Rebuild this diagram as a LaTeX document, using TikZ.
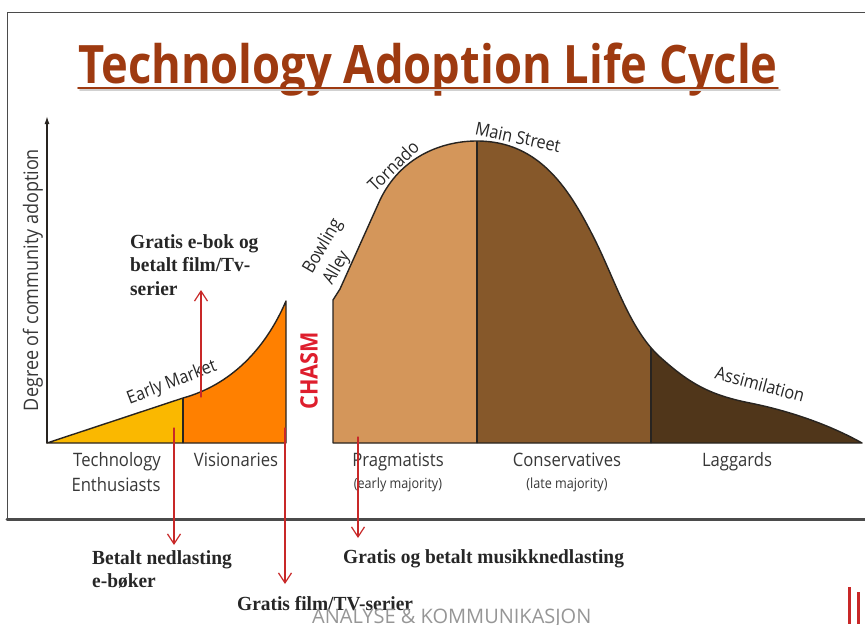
\documentclass[tikz,border=0pt]{standalone}
\usepackage{fontspec}
\newfontfamily\titlefont[FakeStretch=0.855]{Open Sans}
\newfontfamily\lblfont[FakeStretch=0.9]{Open Sans}
\newfontfamily\notefont[FakeStretch=0.97]{Liberation Serif}
\newfontfamily\footfont{Open Sans}
\usetikzlibrary{calc,arrows.meta}

\begin{document}
\begin{tikzpicture}[x=1pt,y=-1pt,line cap=round,line join=round]
  % Local definitions
  \def\leftcurve{(47,443) -- (183,398) .. controls (230,385) and (265,350) .. (286,301) -- (286,443) -- cycle}
  \def\rightcurve{(333,443) -- (333,300) -- (340,289) -- (380,200)
    .. controls (400,158) and (440,141) .. (477,141)
    .. controls (540,141) and (570,190) .. (595,240)
    .. controls (615,280) and (630,330) .. (660,357)
    .. controls (690,384) and (710,395) .. (750,403)
    .. controls (790,411) and (830,425) .. (862,443) -- cycle}

  % Colors
    \definecolor{titlecolor}{RGB}{158,58,16}
    \definecolor{yellowfill}{RGB}{250,184,0}
    \definecolor{orangefill}{RGB}{255,128,0}
    \definecolor{pragfill}{RGB}{212,150,90}
    \definecolor{consfill}{RGB}{134,88,42}
    \definecolor{lagfill}{RGB}{80,54,26}
    \definecolor{outlinecolor}{RGB}{40,36,32}
    \definecolor{lblcolor}{RGB}{55,55,55}
    \definecolor{chasmred}{RGB}{222,30,45}
    \definecolor{hintred}{RGB}{200,40,40}
    \definecolor{framegray}{RGB}{75,75,75}
    \definecolor{footgray}{RGB}{150,150,150}
    \colorlet{logored}{hintred}

  % Styles
    \tikzstyle{outline}=[draw=outlinecolor, line width=1.4]
    \tikzstyle{axes}=[draw=outlinecolor, line width=1.4, -{Latex[length=8pt,width=5pt]}]
    \tikzstyle{titlestyle}=[anchor=base west, inner sep=0, text=titlecolor,
      font=\titlefont\bfseries\fontsize{53}{60}\selectfont]
    \tikzstyle{lbl}=[text=lblcolor, inner sep=0, font=\lblfont\fontsize{18.5}{22}\selectfont]
    \tikzstyle{small lbl}=[lbl, font=\lblfont\fontsize{14}{16}\selectfont]
    \tikzstyle{curve lbl}=[lbl, text=black!85, font=\lblfont\fontsize{18}{23}\selectfont]
    \tikzstyle{note}=[inner sep=0, align=left, text=black!85,
      font=\notefont\bfseries\fontsize{20}{23.5}\selectfont]
    \tikzstyle{hint}=[draw=hintred, line width=1.2, -{Straight Barb[length=10pt,width=13pt]}]

  % The graphic
    \useasboundingbox (0,0) rectangle (865,624);

    % frame
    \draw[framegray, line width=1] (7,12) rectangle (880,519);
    \draw[framegray, line width=3] (7,519) -- (880,519);

    % title
    \node[titlestyle] (title) at (78,83) {Technology Adoption Life Cycle};
    \draw[black!18, line width=1.6] (80,90) -- (780,90);
    \draw[titlecolor, line width=1.6] (78,88) -- (778,88);

    % axis
    \draw[axes] (47,443) -- (47,116);
    \node[lbl, rotate=90, font=\lblfont\fontsize{20}{24}\selectfont] (ylabel) at (33,280) {Degree of community adoption};

    % early market
    \begin{scope}
      \clip \leftcurve;
      \fill[yellowfill] (40,290) rectangle (183,450);
      \fill[orangefill] (183,290) rectangle (290,450);
      \draw[outline] (183,290) -- (183,450);
    \end{scope}
    \draw[outline] \leftcurve;

    % mainstream market
    \begin{scope}
      \clip \rightcurve;
      \fill[pragfill] (330,130) rectangle (477,450);
      \fill[consfill] (477,130) rectangle (651,450);
      \fill[lagfill] (651,130) rectangle (870,450);
      \foreach \x in {477,651}
        \draw[outline] (\x,130) -- (\x,450);
    \end{scope}
    \draw[outline] \rightcurve;

    % labels along the curve
    \node[curve lbl, rotate=21] (earlymkt) at (172,383) {Early Market};
    \node[curve lbl, rotate=60, align=left] (bowling) at (333,252) {Bowling\\Alley};
    \node[curve lbl, rotate=44] (tornado) at (393,166) {Tornado};
    \node[curve lbl, rotate=-12] (mainst) at (518,137) {Main Street};
    \node[curve lbl, rotate=-15] (assim) at (760,384) {Assimilation};
    \node[rotate=90, inner sep=0, text=chasmred,
      font=\lblfont\bfseries\fontsize{24}{28}\selectfont] (chasm) at (309,371) {CHASM};

    % groups
    \foreach \x/\txt/\nm in {117/Technology/tech, 236/Visionaries/visio,
        398/Pragmatists/pragma, 567/Conservatives/conserv, 737/Laggards/lagg}
      \node[lbl, anchor=base] (\nm) at (\x,466) {\txt};
    \node[lbl, anchor=base] (enthus) at (116,491) {Enthusiasts};
    \node[small lbl, anchor=base] (earlymaj) at (398,488) {(early majority)};
    \node[small lbl, anchor=base] (latemaj) at (567,488) {(late majority)};

    % notes
    \node[note, anchor=north west] (ebok) at (130,234) {Gratis e-bok og\\betalt film/Tv-\\serier};
    \node[note, anchor=north west] (nedlast) at (92,550) {Betalt nedlasting\\e-bøker};
    \node[note, anchor=base west] (musikk) at (343,563) {Gratis og betalt musikknedlasting};
    \node[note, anchor=base west] (filmtv) at (237,610) {Gratis film/TV-serier};

    \coordinate (upfoot) at (201,397);   \coordinate (uptip) at (201,290);
    \coordinate (ebfoot) at (174,428);   \coordinate (ebtip) at (174,545);
    \coordinate (tvfoot) at (285,428);   \coordinate (tvtip) at (285,584);
    \coordinate (mufoot) at (358,437);   \coordinate (mutip) at (358,538);
    \foreach \a in {up,eb,tv,mu}
      \draw[hint] (\a foot) -- (\a tip);

    % footer
    \node[anchor=base west, inner sep=0, text=footgray,
      font=\footfont\fontsize{20}{24}\selectfont] (footer) at (312,623) {ANALYSE \& KOMMUNIKASJON};
    \foreach \x/\top in {849/587, 858/592, 866/597}
      \fill[logored] (\x-1.5,\top) rectangle (\x+1.5,624);
\end{tikzpicture}
\end{document}
